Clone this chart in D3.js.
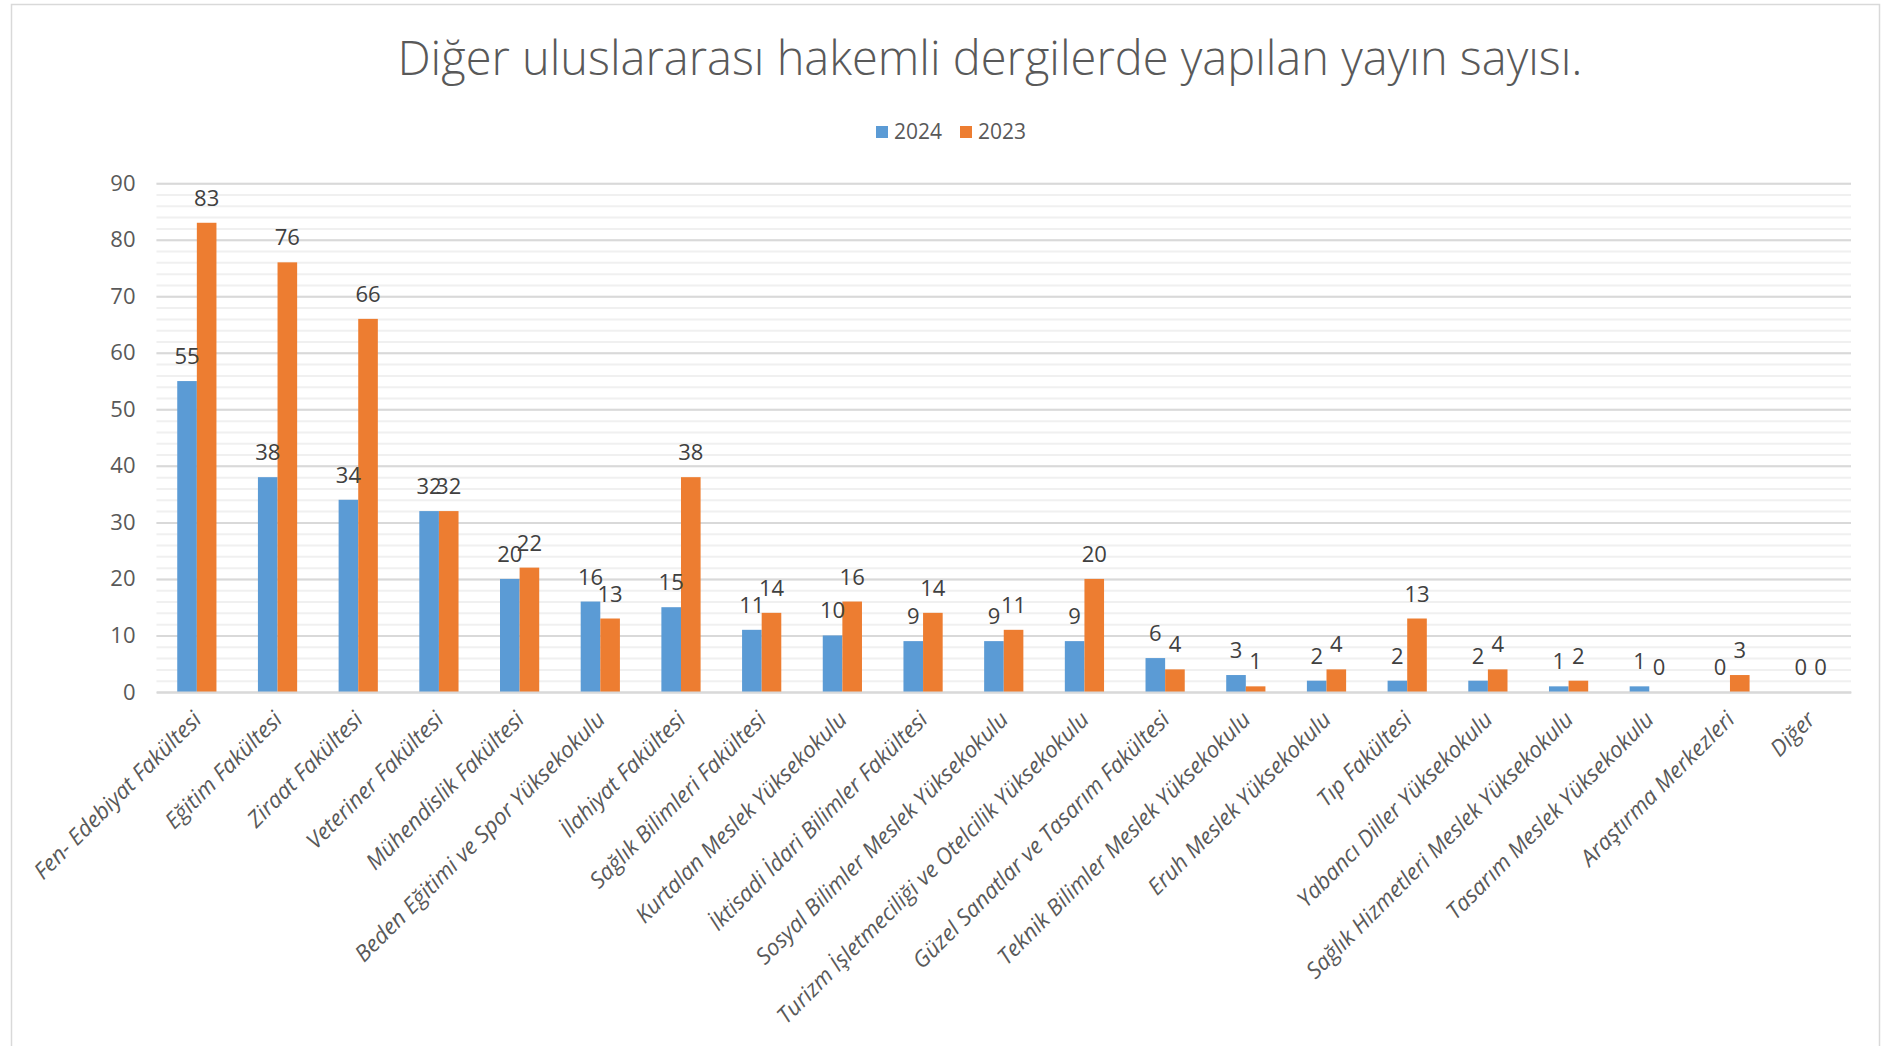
<!DOCTYPE html>
<html>
<head>
<meta charset="utf-8">
<script src="https://cdn.jsdelivr.net/npm/d3@7"></script>
<style>
  html, body { margin: 0; padding: 0; background: #fff; }
  svg { display: block; font-family: "Open Sans", sans-serif; }
</style>
</head>
<body>
<div id="chart"></div>
<script>
const categories = [
  "Fen- Edebiyat Fakültesi",
  "Eğitim Fakültesi",
  "Ziraat Fakültesi",
  "Veteriner Fakültesi",
  "Mühendislik Fakültesi",
  "Beden Eğitimi ve Spor Yüksekokulu",
  "İlahiyat Fakültesi",
  "Sağlık Bilimleri Fakültesi",
  "Kurtalan Meslek Yüksekokulu",
  "İktisadi İdari Bilimler Fakültesi",
  "Sosyal Bilimler Meslek Yüksekokulu",
  "Turizm İşletmeciliği ve Otelcilik Yüksekokulu",
  "Güzel Sanatlar ve Tasarım Fakültesi",
  "Teknik Bilimler Meslek Yüksekokulu",
  "Eruh Meslek Yüksekokulu",
  "Tıp Fakültesi",
  "Yabancı Diller Yüksekokulu",
  "Sağlık Hizmetleri Meslek Yüksekokulu",
  "Tasarım Meslek Yüksekokulu",
  "Araştırma Merkezleri",
  "Diğer"
];
const values2024 = [55, 38, 34, 32, 20, 16, 15, 11, 10, 9, 9, 9, 6, 3, 2, 2, 2, 1, 1, 0, 0];
const values2023 = [83, 76, 66, 32, 22, 13, 38, 14, 16, 14, 11, 20, 4, 1, 4, 13, 4, 2, 0, 3, 0];
const seriesNames = ["2024", "2023"];
const yTicks = [0, 10, 20, 30, 40, 50, 60, 70, 80, 90];

const title = "Diğer uluslararası hakemli dergilerde yapılan yayın sayısı.";
const colors = { "2024": "#5B9BD5", "2023": "#ED7D31" };
const textColor = "#595959";

const W = 1881, H = 1046;
const plot = { left: 156.5, right: 1851, top: 183.2, bottom: 692 };

const svg = d3.select("#chart").append("svg")
  .attr("width", W).attr("height", H);

// chart frame
svg.append("rect")
  .attr("x", 11.5).attr("y", 4.5)
  .attr("width", 1868).attr("height", 1060)
  .attr("fill", "#fff").attr("stroke", "#d9d9d9").attr("stroke-width", 1.5);

const x0 = d3.scaleBand()
  .domain(categories)
  .range([plot.left, plot.right])
  .paddingInner(0.514)
  .paddingOuter(0.257);
const x1 = d3.scaleBand()
  .domain(seriesNames)
  .range([0, x0.bandwidth()]);
const y = d3.scaleLinear()
  .domain([0, 90])
  .range([plot.bottom, plot.top]);

// minor grid (every 2)
svg.append("g")
  .attr("transform", `translate(${plot.left},0)`)
  .call(d3.axisLeft(y).ticks(45).tickSize(-(plot.right - plot.left)).tickFormat(""))
  .call(g => g.select(".domain").remove())
  .call(g => g.selectAll("line").attr("stroke", "#f0f0f0").attr("stroke-width", 2));

// major grid
svg.append("g")
  .attr("transform", `translate(${plot.left},0)`)
  .call(d3.axisLeft(y).tickValues(yTicks).tickSize(-(plot.right - plot.left)).tickFormat(""))
  .call(g => g.select(".domain").remove())
  .call(g => g.selectAll("line").attr("stroke", "#d9d9d9").attr("stroke-width", 2));

// y labels
svg.append("g")
  .attr("transform", `translate(${plot.left},0)`)
  .call(d3.axisLeft(y).tickValues(yTicks).tickSize(0).tickPadding(21))
  .call(g => g.select(".domain").remove())
  .call(g => g.selectAll("text")
    .attr("fill", textColor)
    .style("font-size", "22px")
    .style("font-family", "'Open Sans', sans-serif"));

const rows = categories.map((c, i) => ({
  cat: c,
  vals: [
    { s: "2024", v: values2024[i] },
    { s: "2023", v: values2023[i] }
  ]
}));

const groups = svg.append("g").selectAll("g")
  .data(rows)
  .join("g")
  .attr("transform", d => `translate(${x0(d.cat)},0)`);

groups.selectAll("rect")
  .data(d => d.vals)
  .join("rect")
  .attr("x", d => x1(d.s))
  .attr("y", d => y(d.v))
  .attr("width", x1.bandwidth())
  .attr("height", d => y(0) - y(d.v))
  .attr("fill", d => colors[d.s]);

// data labels
groups.selectAll("text")
  .data(d => d.vals)
  .join("text")
  .attr("x", d => x1(d.s) + x1.bandwidth() / 2)
  .attr("y", d => y(d.v) - 17)
  .attr("text-anchor", "middle")
  .attr("fill", "#404040")
  .style("font-size", "22px")
  .text(d => d.v);

// x axis line + rotated category labels
svg.append("g")
  .attr("transform", `translate(0,${plot.bottom})`)
  .call(d3.axisBottom(x0).tickSize(0).tickPadding(0))
  .call(g => g.select(".domain").attr("stroke", "#d9d9d9").attr("stroke-width", 2))
  .call(g => g.selectAll(".tick text")
    .attr("text-anchor", "end")
    .attr("fill", textColor)
    .attr("dy", 0)
    .attr("transform", "translate(6,29) rotate(-45)")
    .style("font-size", "22.5px")
    .style("font-style", "italic")
    .style("font-family", "'Open Sans', sans-serif"));

// title
svg.append("text")
  .attr("x", 990).attr("y", 75)
  .attr("text-anchor", "middle")
  .attr("fill", textColor)
  .style("font-size", "47px")
  .style("font-weight", 300)
  .text(title);

// legend
const legend = svg.append("g").attr("transform", "translate(876,132)");
const items = legend.selectAll("g")
  .data(seriesNames)
  .join("g")
  .attr("transform", (d, i) => `translate(${i * 84},0)`);
items.append("rect")
  .attr("x", 0).attr("y", -6)
  .attr("width", 12).attr("height", 12)
  .attr("fill", d => colors[d]);
items.append("text")
  .attr("x", 18).attr("y", 0)
  .attr("dy", "0.35em")
  .attr("fill", textColor)
  .style("font-size", "21px")
  .text(d => d);
</script>
</body>
</html>
